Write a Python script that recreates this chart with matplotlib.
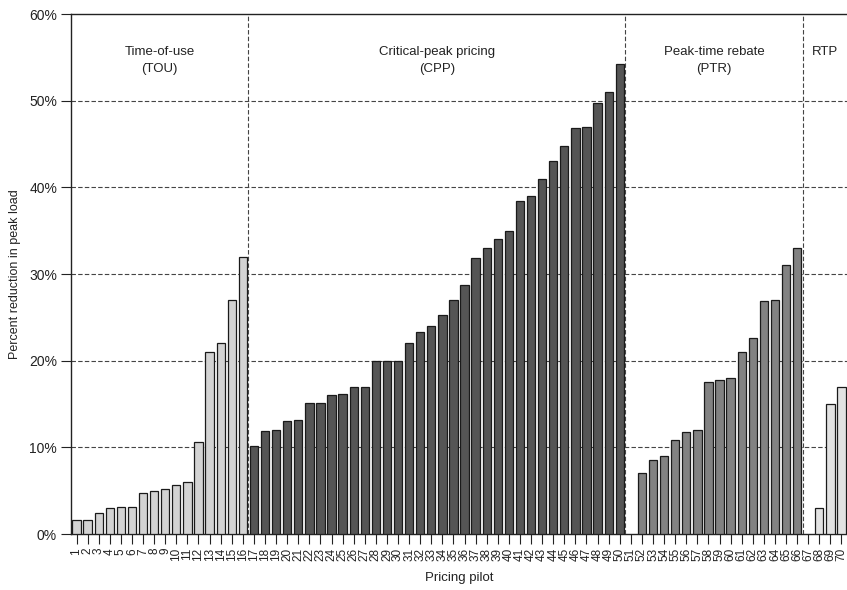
import matplotlib
matplotlib.use("Agg")
import matplotlib.pyplot as plt
import numpy as np

plt.rcParams['font.family'] = ['Liberation Sans', 'DejaVu Sans']

# peak reduction by pilot, grouped by rate design (percent)
tou_pilots = list(range(1, 17))
tou_values = [1.6, 1.6, 2.4, 3.0, 3.1, 3.1, 4.7, 5.0, 5.2, 5.7, 6.0,
              10.6, 21.0, 22.0, 27.0, 32.0]

cpp_pilots = list(range(17, 51))
cpp_values = [10.2, 11.9, 12.0, 13.0, 13.1, 15.1, 15.1, 16.0, 16.1, 17.0,
              17.0, 20.0, 20.0, 20.0, 22.0, 23.3, 24.0, 25.3, 27.0, 28.7,
              31.9, 33.0, 34.0, 35.0, 38.4, 39.0, 41.0, 43.0, 44.8, 46.8,
              47.0, 49.7, 51.0, 54.2]

ptr_pilots = list(range(52, 67))
ptr_values = [7.0, 8.5, 9.0, 10.9, 11.8, 12.0, 17.5, 17.8, 18.0, 21.0,
              22.6, 26.9, 27.0, 31.0, 33.0]

rtp_pilots = [68, 69, 70]
rtp_values = [3.0, 15.0, 17.0]

groups = [
    ("Time-of-use\n(TOU)", tou_pilots, tou_values, "#d3d3d3"),
    ("Critical-peak pricing\n(CPP)", cpp_pilots, cpp_values, "#555555"),
    ("Peak-time rebate\n(PTR)", ptr_pilots, ptr_values, "#828282"),
    ("RTP", rtp_pilots, rtp_values, "#e2e2e2"),
]
dividers = [16.5, 50.5, 66.5]
region_edges = [0.5, 16.5, 50.5, 66.5, 70.5]

fig = plt.figure(figsize=(8.47, 5.90), dpi=100)
ax = fig.add_axes([71 / 847, 56 / 590, 776 / 847, 520 / 590])

for label, pilots, values, color in groups:
    ax.bar(pilots, np.array(values) / 100, width=0.75, color=color,
           edgecolor="#1a1a1a", linewidth=0.9, zorder=3)

# horizontal grid
for y in np.arange(0.1, 0.6, 0.1):
    ax.axhline(y, color="#444444", linestyle=(0, (4, 2)), linewidth=0.8, zorder=1)

for x in dividers:
    ax.axvline(x, color="#444444", linestyle=(0, (4, 2)), linewidth=0.8, zorder=4)

# group titles
for i, (label, pilots, values, color) in enumerate(groups):
    xc = (region_edges[i] + region_edges[i + 1]) / 2
    ax.text(xc, 0.5635, label, ha="center", va="top", fontsize=9.5,
            color="#222222", linespacing=1.55)

ax.set_xlim(0.5, 70.5)
ax.set_ylim(0, 0.6)
ax.set_yticks(np.arange(0, 0.61, 0.1))
ax.set_yticklabels([f"{int(round(v * 100))}%" for v in np.arange(0, 0.61, 0.1)])
ax.set_xticks(range(1, 71))
ax.set_xticklabels([str(i) for i in range(1, 71)], rotation=90)
ax.tick_params(axis="x", length=7, width=0.8, labelsize=8.5, pad=3, direction="out",
               colors="#222222")
ax.tick_params(axis="y", length=7, width=0.8, labelsize=10, pad=3, direction="out",
               colors="#222222")

for side in ["left", "top", "bottom"]:
    ax.spines[side].set_linewidth(1.0)
    ax.spines[side].set_color("#222222")
ax.spines["right"].set_visible(False)

ax.set_ylabel("Percent reduction in peak load", fontsize=9, color="#222222", labelpad=6)
ax.set_xlabel("Pricing pilot", fontsize=9.5, color="#222222", labelpad=8)

fig.savefig("out.png", dpi=100)
